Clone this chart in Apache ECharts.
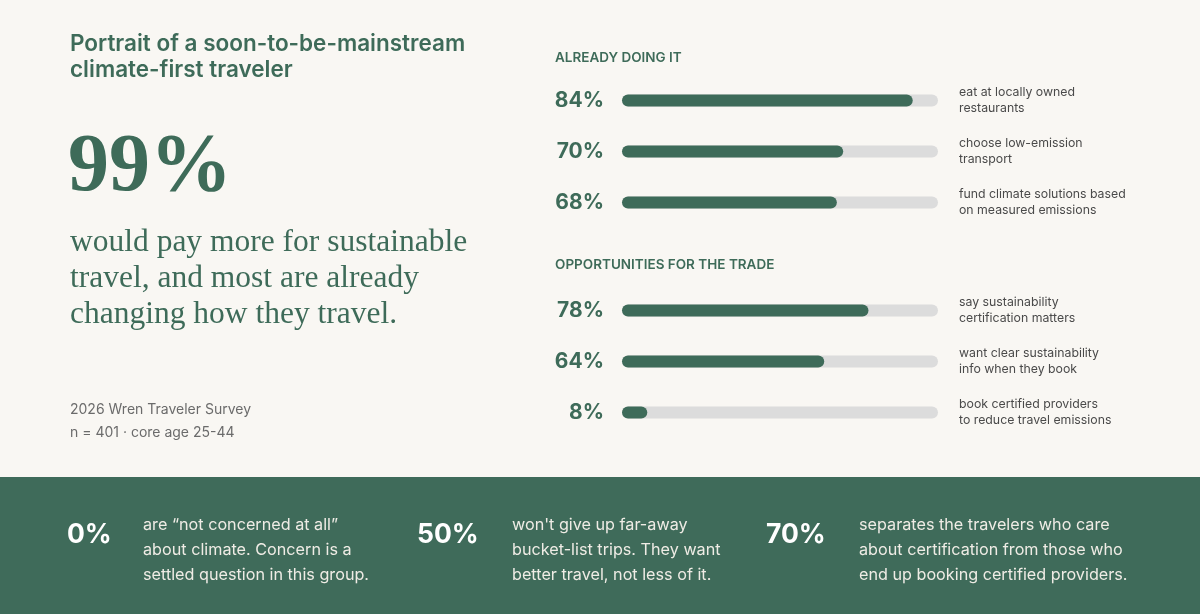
<!DOCTYPE html>
<html>
<head>
<meta charset="utf-8">
<script src="https://cdn.jsdelivr.net/npm/echarts@6/dist/echarts.min.js"></script>
<style>
  html, body { margin: 0; padding: 0; background: #f9f7f3; }
  #main { width: 1200px; height: 614px; }
</style>
</head>
<body>
<div id="main"></div>
<script>
// data
const groupTitles = ['ALREADY DOING IT', 'OPPORTUNITIES FOR THE TRADE'];
const doingLabels = ['84%', '70%', '68%'];
const doingFill = [92, 70, 68];
const doingText = ['eat at locally owned\nrestaurants', 'choose low-emission\ntransport', 'fund climate solutions based\non measured emissions'];
const tradeLabels = ['78%', '64%', '8%'];
const tradeFill = [78, 64, 8];
const tradeText = ['say sustainability\ncertification matters', 'want clear sustainability\ninfo when they book', 'book certified providers\nto reduce travel emissions'];
const footStats = ['0%', '50%', '70%'];
const footText = [
  'are \u201cnot concerned at all\u201d\nabout climate. Concern is a\nsettled question in this group.',
  'won\'t give up far-away\nbucket-list trips. They want\nbetter travel, not less of it.',
  'separates the travelers who care\nabout certification from those who\nend up booking certified providers.'
];

const GREEN = '#3e6b59';
const SANS = 'Inter, "Noto Sans", sans-serif';
const SERIF = '"Liberation Serif", "DejaVu Serif", serif';

const chart = echarts.init(document.getElementById('main'));

function axisPair(labels, texts, gi) {
  return [{
    type: 'category', gridIndex: gi, inverse: true, data: labels,
    axisLine: { show: false }, axisTick: { show: false },
    axisLabel: { margin: 18, color: GREEN, fontSize: 21, fontWeight: 'bold', fontFamily: SANS, padding: [3, 0, 0, 0] }
  }, {
    type: 'category', gridIndex: gi, inverse: true, position: 'right', data: texts,
    axisLine: { show: false }, axisTick: { show: false },
    axisLabel: { margin: 21, color: '#4a4a4a', fontSize: 12.3, lineHeight: 16.5, fontFamily: SANS, align: 'left' }
  }];
}

function barSeries(values, gi) {
  return {
    type: 'bar', xAxisIndex: gi, yAxisIndex: gi * 2, data: values,
    barWidth: 12, showBackground: true,
    backgroundStyle: { color: '#dcdcdc', borderRadius: 6 },
    itemStyle: { color: GREEN, borderRadius: 6 },
    silent: true
  };
}

const graphics = [
  { type: 'text', left: 70, top: 31, style: { text: 'Portrait of a soon-to-be-mainstream\nclimate-first traveler', fill: GREEN, fontSize: 22.5, fontWeight: 600, fontFamily: SANS, lineHeight: 26 } },
  { type: 'text', left: 68, top: 128, style: { text: '99%', fill: GREEN, fontSize: 82, fontWeight: 'bold', fontFamily: SERIF } },
  { type: 'text', left: 70, top: 225, style: { text: 'would pay more for sustainable\ntravel, and most are already\nchanging how they travel.', fill: GREEN, fontSize: 31.5, fontFamily: SERIF, lineHeight: 36 } },
  { type: 'text', left: 70, top: 398, style: { text: '2026 Wren Traveler Survey\nn = 401 \u00b7 core age 25-44', fill: '#6b6b6b', fontSize: 14, fontFamily: SANS, lineHeight: 23 } },
  { type: 'text', left: 555, top: 51, style: { text: groupTitles[0], fill: GREEN, fontSize: 13.5, fontWeight: 600, fontFamily: SANS } },
  { type: 'text', left: 555, top: 258, style: { text: groupTitles[1], fill: GREEN, fontSize: 13.5, fontWeight: 600, fontFamily: SANS } },
  { type: 'rect', left: 0, top: 477, shape: { width: 1200, height: 137 }, style: { fill: '#3f6b5a' }, z: -1 }
];
const statX = [67, 417, 766];
const textX = [143, 512, 859];
footStats.forEach((s, i) => {
  graphics.push({ type: 'text', left: statX[i], top: 522, style: { text: s, fill: '#ffffff', fontSize: 26.5, fontWeight: 'bold', fontFamily: SANS } });
  graphics.push({ type: 'text', left: textX[i], top: 513, style: { text: footText[i], fill: '#efece5', fontSize: 16.2, fontFamily: SANS, lineHeight: 25 } });
});

const options = {
  backgroundColor: '#f9f7f3',
  animation: false,
  grid: [
    { left: 622, width: 316, top: 75, height: 153 },
    { left: 622, width: 316, top: 285, height: 153 }
  ],
  xAxis: [
    { type: 'value', gridIndex: 0, min: 0, max: 100, show: false },
    { type: 'value', gridIndex: 1, min: 0, max: 100, show: false }
  ],
  yAxis: axisPair(doingLabels, doingText, 0).concat(axisPair(tradeLabels, tradeText, 1)),
  series: [barSeries(doingFill, 0), barSeries(tradeFill, 1)],
  graphic: graphics
};
chart.setOption(options);
</script>
</body>
</html>
